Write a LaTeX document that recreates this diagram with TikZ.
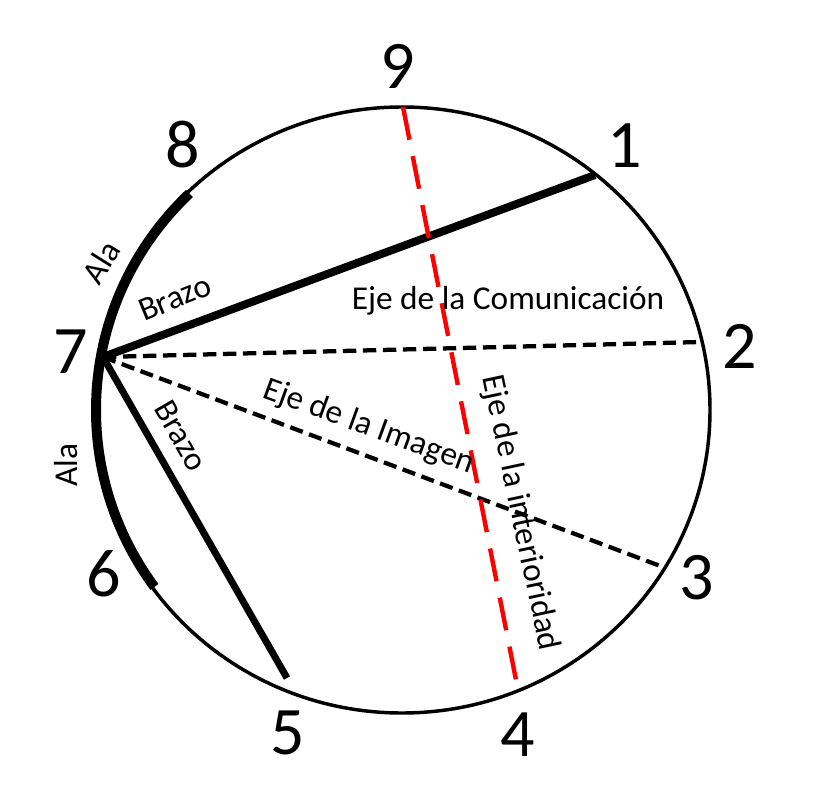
\documentclass[tikz,border=0pt]{standalone}
\usepackage{fontspec}
\setmainfont{Carlito}
\usetikzlibrary{calc}
\definecolor{axisred}{HTML}{FF0000}

\begin{document}
\begin{tikzpicture}[
    x=0.75pt, y=-0.75pt,
    num/.style={font=\fontsize{51}{51}\selectfont, inner sep=0pt},
    lbl/.style={font=\fontsize{25}{25}\selectfont, inner sep=0pt},
    rim/.style={draw=black, line width=2.6pt},
    arm/.style={draw=black, line width=6pt},
    wing/.style={draw=black, line width=7.5pt},
    axis/.style={draw=black, line width=3.2pt, dash pattern=on 10pt off 5pt},
    inneraxis/.style={draw=axisred, line width=3.3pt, dash pattern=on 25pt off 12.5pt},
]
    \useasboundingbox (0,0) rectangle (813,809);

    % =====================================================================
    % CIRCLE AND POINTS
    % =====================================================================
    \coordinate (c) at (402,410);
    \draw[rim] (c) ellipse[x radius=308, y radius=303];

    \coordinate (p1) at (595,175);
    \coordinate (p2) at (700,342);
    \coordinate (p3) at (663,567);
    \coordinate (p4) at (516,680);
    \coordinate (p5) at (287,678);
    \coordinate (p7) at (103,357);
    \coordinate (p9) at (403,107);

    % wings (arc 6 -- 7 -- 8)
    \draw[wing] ($(c)+(144:306 and 301)$) arc[start angle=144, end angle=226, x radius=306, y radius=301];

    % =====================================================================
    % AXES
    % =====================================================================
    \draw[arm] (p7) -- (p1);
    \draw[arm, line width=5.2pt] (p7) -- (p5);
    \draw[axis] (p7) -- (p2);
    \draw[axis] (p7) -- (p3);
    \draw[inneraxis] (p9) -- (p4);

    % =====================================================================
    % NUMBERS
    % =====================================================================
    \node[num] (n9) at (398,66) {9};
    \node[num] (n8) at (183,145) {8};
    \node[num] (n1) at (625,146) {1};
    \node[num] (n7) at (71,352) {7};
    \node[num] (n2) at (740,346) {2};
    \node[num] (n6) at (104,574) {6};
    \node[num] (n3) at (697,578) {3};
    \node[num] (n5) at (288,733) {5};
    \node[num] (n4) at (518,735) {4};

    % =====================================================================
    % LABELS
    % =====================================================================
    \node[lbl] (com) at (508,301) {Eje de la Comunicación};
    \node[lbl, rotate=-20] (img) at (369,427) {Eje de la Imagen};
    \node[lbl, rotate=-78] (int) at (520,513) {Eje de la interioridad};
    \node[lbl, rotate=22] (brazoA) at (175,298) {Brazo};
    \node[lbl, rotate=-60] (brazoB) at (181,436) {Brazo};
    \node[lbl, rotate=58] (alaA) at (101,262) {Ala};
    \node[lbl, rotate=90] (alaB) at (66,465) {Ala};
\end{tikzpicture}
\end{document}
